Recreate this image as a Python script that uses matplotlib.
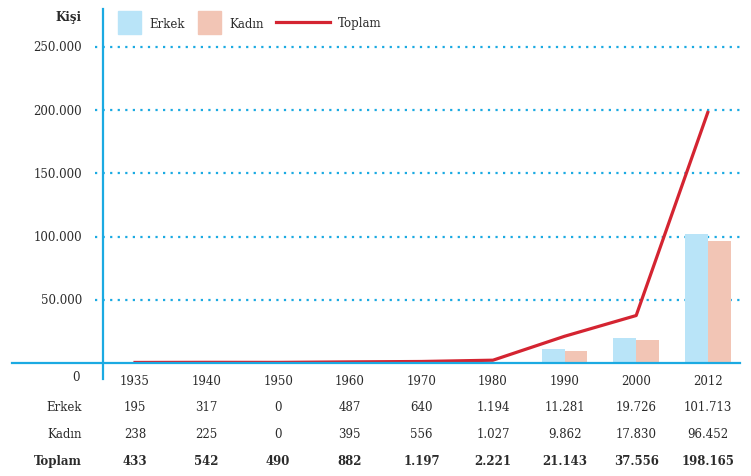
import matplotlib.pyplot as plt
from matplotlib.patches import Rectangle
from matplotlib.lines import Line2D

# data
years = ['1935', '1940', '1950', '1960', '1970', '1980', '1990', '2000', '2012']
erkek = [195, 317, 0, 487, 640, 1194, 11281, 19726, 101713]
kadin = [238, 225, 0, 395, 556, 1027, 9862, 17830, 96452]
toplam = [433, 542, 490, 882, 1197, 2221, 21143, 37556, 198165]
y_ticks = [50000, 100000, 150000, 200000, 250000]
y_labels = ['50.000', '100.000', '150.000', '200.000', '250.000']


def fmt(v):
    return f'{v:,}'.replace(',', '.')


plt.rcParams['font.family'] = ['DejaVu Serif']
blue = '#1BAAE2'
c_erkek = '#B9E4F8'
c_kadin = '#F2C5B5'
c_red = '#D42431'
txt = '#2b2b2b'

fig = plt.figure(figsize=(7.51, 4.77), dpi=100)
W, H = 751, 477
ax = fig.add_axes([103 / W, (H - 364) / H, 639 / W, 354 / H])

x = list(range(len(years)))
bw = 0.32
ax.bar([i - bw / 2 for i in x], erkek, width=bw, color=c_erkek, zorder=2)
ax.bar([i + bw / 2 for i in x], kadin, width=bw, color=c_kadin, zorder=2)
ax.plot(x, toplam, color=c_red, linewidth=2.3, zorder=4)

ax.set_xlim(-0.447, 8.478)
ax.set_ylim(0, 280000)

# dotted grid lines
for t in y_ticks:
    ax.axhline(t, xmin=-0.0125, xmax=1.0, color=blue, linewidth=1.6,
               linestyle=(0, (1.0, 2.4)), clip_on=False, zorder=1)

# axis lines
ax.axvline(-0.447, ymin=-0.045, ymax=1, color=blue, linewidth=1.6,
           clip_on=False, zorder=5)
ax.axhline(0, xmin=-0.142, xmax=0.997, color=blue, linewidth=1.6,
           clip_on=False, zorder=5)

for s in ax.spines.values():
    s.set_visible(False)
ax.set_xticks([])
ax.set_yticks([])

fs = 8.5
ytr = ax.get_yaxis_transform()
for t, lab in zip(y_ticks, y_labels):
    ax.text(-(103 - 82) / 639, t, lab, transform=ytr, ha='right', va='center',
            fontsize=fs, color=txt)
ax.text(-(103 - 80) / 639, -14 / 354 * 280000, '0', transform=ytr,
        ha='right', va='center', fontsize=fs, color=txt)

# y axis title
fig.text(82 / W, (H - 17) / H, 'Kişi', ha='right', va='center',
         fontsize=fs, fontweight='bold', color=txt)

# table below the chart
rows = [(382, None, years, 'normal'),
        (408, 'Erkek', [fmt(v) for v in erkek], 'normal'),
        (435, 'Kadın', [fmt(v) for v in kadin], 'normal'),
        (462, 'Toplam', [fmt(v) for v in toplam], 'bold')]
xtr = ax.get_xaxis_transform()
for py, name, vals, wt in rows:
    yy = (364 - py) / 354
    if name:
        fig.text(82 / W, (H - py) / H, name, ha='right', va='center',
                 fontsize=fs, fontweight=wt, color=txt)
    for i, v in zip(x, vals):
        ax.text(i, yy, v, transform=xtr, ha='center', va='center',
                fontsize=fs, fontweight=wt, color=txt)

# legend
fig.patches.append(Rectangle((118 / W, (H - 35) / H), 23 / W, 23 / H,
                             transform=fig.transFigure, color=c_erkek))
fig.text(149 / W, (H - 24) / H, 'Erkek', va='center', fontsize=fs, color=txt)
fig.patches.append(Rectangle((198 / W, (H - 35) / H), 23 / W, 23 / H,
                             transform=fig.transFigure, color=c_kadin))
fig.text(229 / W, (H - 24) / H, 'Kadın', va='center', fontsize=fs, color=txt)
fig.lines.append(Line2D([276 / W, 330 / W], [(H - 23) / H] * 2,
                        transform=fig.transFigure, color=c_red, linewidth=2.3))
fig.text(338 / W, (H - 24) / H, 'Toplam', va='center', fontsize=fs, color=txt)

fig.savefig('out.png', dpi=100)
